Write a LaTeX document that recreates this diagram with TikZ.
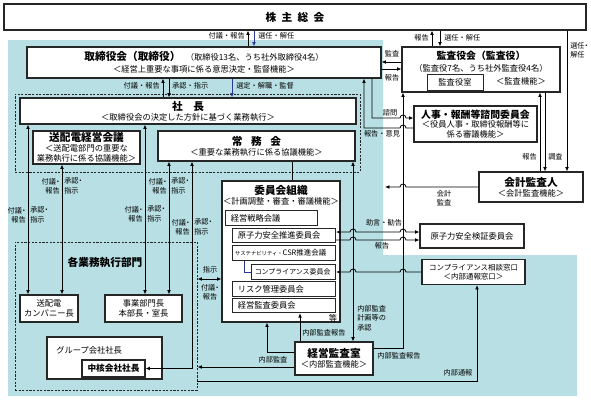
\documentclass[tikz,border=0pt]{standalone}
\usepackage{fontspec}
\setmainfont{Noto Sans CJK JP}
\usepackage{tikz}
\usetikzlibrary{arrows.meta, positioning, calc}

\definecolor{bgteal}{RGB}{184,224,228}
\definecolor{navyline}{RGB}{45,55,150}

\newcommand\ttlfont{\bfseries\fontsize{8}{9.5}\selectfont}
\newcommand\ttlsmall{\bfseries\fontsize{7.4}{9}\selectfont}
\newcommand\subfont{\fontsize{6.2}{7.3}\selectfont}
\newcommand\lblfont{\fontsize{5.4}{7}\selectfont}
\newcommand\nd{\makebox[0.5em][c]{・}}
\newcommand\hopr[2]{-- ({#1-3},#2) arc[start angle=180, end angle=0, radius=2.25pt]}
\newcommand\hopl[2]{-- ({#1+3},#2) arc[start angle=0, end angle=180, radius=2.25pt]}

\begin{document}
\begin{tikzpicture}[x=0.75pt, y=-0.75pt, >={Latex[length=3.3pt,width=2.8pt]},
  box/.style={draw=black!85, fill=white, line width=0.8pt, align=center, inner sep=0pt, font=\subfont},
  sz/.style 2 args={minimum width=#1*0.75pt, minimum height=#2*0.75pt},
  sb/.style={draw=black!85, fill=white, line width=0.7pt, anchor=west, inner xsep=4pt, inner ysep=0pt, minimum height=10.8pt, text width=#1, align=left, font=\subfont},
  grpbox/.style={draw=black!85, dash pattern=on 1.6pt off 1.1pt, line width=0.7pt, inner sep=0pt},
  lbl/.style={font=\lblfont, inner sep=0pt, align=center},
  cn/.style={draw=black, line width=0.6pt},
  bl/.style={draw=navyline, line width=0.6pt},
]
\useasboundingbox (0,0) rectangle (591,400);
\fill[white] (0,0) rectangle (591,400);
\fill[bgteal] (8,40) -- (383,40) -- (383,255) -- (577,255) -- (577,396) -- (8,396) -- cycle;

\node[grpbox, sz={345}{78}] (execgrp) at (187.5,133) {};
\node[grpbox, sz={182}{148}] (bizgrp) at (106,316) {};

\node[box, sz={582}{26}, font=\ttlfont] (gms) at (295,17) {株\hspace{0.5em}主\hspace{0.5em}総\hspace{0.5em}会};
\node[box, sz={354}{31}] (board) at (204,62.5) {{\ttlfont 取締役会（取締役）}\hspace{4pt}（取締役13名、うち社外取締役4名）\\[1.5pt]＜経営上重要な事項に係る意思決定・監督機能＞};
\node[box, sz={336}{26}] (pres) at (188,111) {{\ttlfont 社\hspace{1em}長}\\＜取締役会の決定した方針に基づく業務執行＞};
\node[box, sz={107}{33}] (tsdmtg) at (86.5,147.5) {{\ttlfont 送配電経営会議}\\＜送配電部門の重要な\\業務執行に係る協議機能＞};
\node[box, sz={197}{30}] (jomu) at (256.5,146) {{\ttlfont 常\hspace{0.8em}務\hspace{0.8em}会}\\＜重要な業務執行に係る協議機能＞};

\node[box, sz={118}{141}] (cmte) at (281,251.5) {};
\node[lbl, font=\subfont] (cmtettl) at (281,195) {{\ttlfont 委員会組織}\\＜計画調整・審査・審議機能＞};
\node[sb=61pt] (strat) at (225,218) {経営戦略会議};
\node[sb=69.25pt] (nsp) at (232,235.5) {原子力安全推進委員会};
\node[sb=73.25pt, inner xsep=2pt] (csr) at (232,253) {{\fontsize{4}{5}\selectfont サステナビリティ・}{\fontsize{5.6}{6.5}\selectfont CSR推進会議}};
\node[sb=58pt, inner xsep=2.5pt, font=\fontsize{5.2}{6.2}\selectfont] (cmpl) at (251,272) {コンプライアンス委員会};
\node[sb=69.25pt] (risk) at (232,289) {リスク管理委員会};
\node[sb=69.25pt] (audc) at (232,305.5) {経営監査委員会};
\node[lbl, font=\subfont] (etc) at (333,318) {等};
\draw[bl] ($(csr.south west)+(12,0)$) |- (cmpl.west);

\node[font=\ttlfont, inner sep=0pt] (bizttl) at (105,262) {各業務執行部門};
\node[box, sz={58}{27}] (tsdco) at (49,308.5) {送配電\\カンパニー長};
\node[box, sz={77}{27}] (divhd) at (143.5,308.5) {事業部門長\\本部長・室長};
\node[box, sz={115}{42}] (grpco) at (104.5,358) {};
\node[lbl, font=\subfont, anchor=west] (grpttl) at (56,350) {グループ会社社長};
\node[box, sz={63}{17}, font=\bfseries\fontsize{6.5}{7.5}\selectfont] (core) at (113.5,368.5) {中核会社社長};

\node[box, sz={158}{45}] (kansa) at (481,69.5) {};
\node[font=\ttlsmall, inner sep=0pt] (kansattl) at (481,56) {監査役会（監査役）};
\node[font=\subfont, inner sep=0pt] (kansanum) at (481,68) {（監査役7名、うち社外監査役4名）};
\node[box, sz={56}{16}, line width=0.7pt] (kansaoff) at (455,82) {監査役室};
\node[font=\subfont, inner sep=0pt] (kansafn) at (521,81) {＜監査機能＞};
\node[box, sz={123}{36}] (jinji) at (475.5,124) {{\ttlsmall 人事・報酬等諮問委員会}\\＜役員人事・取締役報酬等に\\係る審議機能＞};
\node[box, sz={104}{30}] (acct) at (531,187) {{\ttlfont 会計監査人}\\＜会計監査機能＞};
\node[box, sz={104}{24}] (nsv) at (472,236) {原子力安全検証委員会};
\node[box, sz={103}{25}, font=\fontsize{5.6}{7}\selectfont] (hotline) at (473.5,272) {コンプライアンス相談窓口\\＜内部通報窓口＞};
\node[box, sz={78}{33}] (iaud) at (334,358.5) {{\ttlfont 経営監査室}\\＜内部監査機能＞};
\coordinate (acctend) at (385,187);

\draw[cn,->] (248,0 |- board.north) -- (248,0 |- gms.south);
\draw[bl,->] (254,0 |- gms.south) -- (254,0 |- board.north);
\node[lbl, anchor=east] (lgms1) at (245,36) {付議・報告};
\node[lbl, anchor=west] (lgms2) at (258,36) {選任・解任};
\draw[cn,->] (432,0 |- kansa.north) -- (432,0 |- gms.south);
\draw[cn,->] (440,0 |- gms.south) -- (440,0 |- kansa.north);
\node[lbl, anchor=east] (lks1) at (429,38) {報告};
\node[lbl, anchor=west] (lks2) at (444,38) {選任・解任};
\draw[cn,->] (567,0 |- gms.south) -- (567,0 |- acct.north);
\node[lbl, anchor=west, align=left] (lacc) at (570,50) {選任\nd\\解任};

\draw[cn,->] (kansa.west |- 0,62) -- (board.east |- 0,62);
\draw[cn,->] (board.east |- 0,69) -- (kansa.west |- 0,69);
\node[lbl] (lbk1) at (392,54) {監査};
\node[lbl] (lbk2) at (392,78) {報告};

\draw[cn,->] (163,0 |- pres.north) -- (163,0 |- board.south);
\draw[cn,->] (169,0 |- board.south) -- (169,0 |- pres.north);
\draw[bl,->] (232,0 |- board.south) -- (232,0 |- pres.north);
\node[lbl, anchor=east] (lbp1) at (160,86) {付議・報告};
\node[lbl, anchor=west] (lbp2) at (172,86) {承認・指示};
\node[lbl, anchor=west] (lbp3) at (236,86) {選定・解職・監督};

\draw[cn,<->] (28,0 |- pres.south) -- (28,0 |- tsdco.north);
\draw[cn,<->] (62,0 |- tsdmtg.south) -- (62,0 |- tsdco.north);
\draw[cn,<->] (145,0 |- pres.south) -- (145,0 |- divhd.north);
\draw[cn,<->] (169,0 |- jomu.south) -- (169,0 |- divhd.north);
\draw[cn,<->] (192,0 |- jomu.south) |- (core.east);
\foreach \lx/\ly [count=\i] in {28/215, 62/186, 145/214, 169/186, 192/227} {
  \node[lbl, anchor=east, align=right] (fg\i) at (\lx-2,\ly) {付議\nd\\報告};
  \node[lbl, anchor=west, align=left] (sj\i) at (\lx+2,\ly) {承認\nd\\指示};
}

\draw[cn,<->] (bizgrp.east |- 0,279) -- (cmte.west |- 0,279);
\node[lbl] (lsiji) at (210,270) {指示};
\node[lbl] (lfugi) at (210,292) {付議\nd\\報告};
\draw[cn] (292,0 |- jomu.south) -- (292,0 |- cmte.north);

\draw[cn,<->] (353,0 |- jomu.south) -- (353,0 |- iaud.north);
\node[lbl, anchor=west, align=left] (lplan) at (357,318) {内部監査\\計画等の\\承認};
\draw[cn,->] (iaud.west |- 0,352) -| (267,0 |- cmte.south);
\draw[cn,->] (300,0 |- iaud.north) -- (300,0 |- audc.south);
\node[lbl, anchor=west] (lrep1) at (302,333) {内部監査報告};
\draw[cn,->] (iaud.west |- 0,367) -- (bizgrp.east |- 0,367);
\node[lbl] (liaud) at (273,360) {内部監査};
\draw[cn,->] (bizgrp.east |- 0,381) -| (477,0 |- hotline.south);
\node[lbl] (lwb) at (458,373) {内部通報};
\draw[cn,->] (iaud.east |- 0,348) -| (403,0 |- kansa.south);
\node[lbl] (lrep2) at (399,356) {内部監査報告};

\draw[cn,->] (372,0 |- board.south) -- (372,118) \hopr{403}{118} -- (jinji.west |- 0,118);
\node[lbl] (lsimon) at (390,113) {諮問};
\draw[cn,->] (jinji.west |- 0,128) \hopl{403}{128} -- (364,128) -- (364,0 |- board.south);
\node[lbl] (liken) at (382,134) {報告・意見};

\draw[cn,->] (acct.west) \hopl{403}{187} -- (acctend);
\node[lbl] (lacct) at (444,198) {会計\\監査};
\draw[cn,->] (540,0 |- acct.north) -- (540,0 |- kansa.south);
\draw[cn,->] (545,0 |- kansa.south) -- (545,0 |- acct.north);
\node[lbl, anchor=east] (lka1) at (537,157) {報告};
\node[lbl, anchor=west] (lka2) at (548,157) {調査};

\draw[cn,<->] (nsp.east |- 0,232) \hopr{353}{232} \hopr{403}{232} -- (nsv.west |- 0,232);
\draw[cn,->] (nsp.east |- 0,240) \hopr{353}{240} \hopr{403}{240} -- (nsv.west |- 0,240);
\node[lbl] (ljogen) at (384,223) {助言・勧告};
\node[lbl] (lnsrep) at (382,246) {報告};
\draw[cn,->] (hotline.west) \hopl{403}{272} \hopl{353}{272} -- (cmpl.east);
\end{tikzpicture}
\end{document}
